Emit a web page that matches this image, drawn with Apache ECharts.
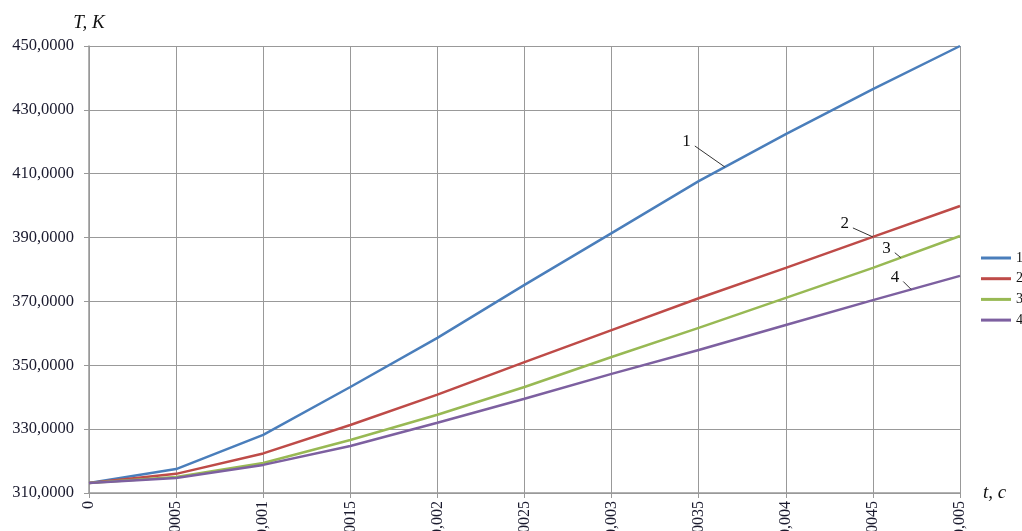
<!DOCTYPE html>
<html><head><meta charset="utf-8">
<script src="https://cdn.jsdelivr.net/npm/echarts@6/dist/echarts.min.js"></script>
<style>html,body{margin:0;padding:0;background:#fff;overflow:hidden}#c{width:1022px;height:531px}</style>
</head><body><div id="c"></div>
<script>
const times = [0, 0.0005, 0.001, 0.0015, 0.002, 0.0025, 0.003, 0.0035, 0.004, 0.0045, 0.005];
const s1 = [313.1, 317.5, 328.2, 343.2, 358.6, 375.2, 391.4, 407.7, 422.4, 436.5, 450.0];
const s2 = [313.1, 316.0, 322.4, 331.3, 340.8, 351.0, 361.0, 371.0, 380.5, 390.2, 399.9];
const s3 = [313.1, 315.0, 319.4, 326.6, 334.5, 343.2, 352.6, 361.7, 371.1, 380.5, 390.5];
const s4 = [313.1, 314.7, 318.8, 324.7, 332.0, 339.5, 347.3, 354.8, 362.6, 370.4, 378.0];
const seriesNames = ['1', '2', '3', '4'];
const colors = ['#4a7ebb', '#be4b48', '#98b954', '#7d60a0'];
// annotation anchors: series index, time on curve, label offset (px)
const notes = [
  {s: 0, t: 0.00365, dx: -36, dy: -26},
  {s: 1, t: 0.0045, dx: -26, dy: -14},
  {s: 2, t: 0.00466, dx: -12, dy: -10},
  {s: 3, t: 0.00472, dx: -14, dy: -13}
];
const allSeries = [s1, s2, s3, s4];
const font = 'Liberation Serif';
const chart = echarts.init(document.getElementById('c'));
const fmt = v => v.toString().replace('.', ',');
chart.setOption({
  animation: false,
  color: colors,
  grid: {left: 89, right: 62, top: 46, bottom: 38, containLabel: false, outerBoundsMode: 'none'},
  legend: {
    orient: 'vertical', left: 981, top: 251, padding: 0, itemWidth: 30, itemHeight: 3, itemGap: 6.7,
    icon: 'rect',
    textStyle: {fontFamily: font, fontSize: 14, color: '#111'},
    data: seriesNames
  },
  xAxis: {
    type: 'value', min: 0, max: 0.005, interval: 0.0005,
    name: 't, c', nameLocation: 'end', nameGap: 23,
    nameTextStyle: {fontFamily: font, fontStyle: 'italic', fontSize: 19, color: '#111', verticalAlign: 'middle'},
    axisLine: {lineStyle: {color: '#999', width: 1.5}},
    axisTick: {show: true, length: 5, lineStyle: {color: '#999'}},
    splitLine: {show: true, lineStyle: {color: '#999', width: 1}},
    axisLabel: {rotate: 90, fontFamily: font, fontSize: 16, color: '#1a1a2e', margin: 8,
      formatter: v => fmt(+v.toFixed(4))}
  },
  yAxis: {
    type: 'value', min: 310, max: 450, interval: 20,
    name: 'T, K', nameLocation: 'end', nameGap: 14,
    nameTextStyle: {fontFamily: font, fontStyle: 'italic', fontSize: 19, color: '#111', align: 'center'},
    axisLine: {show: true, lineStyle: {color: '#999', width: 1.5}},
    axisTick: {show: true, length: 5, lineStyle: {color: '#999'}},
    splitLine: {show: true, lineStyle: {color: '#999', width: 1}},
    axisLabel: {fontFamily: font, fontSize: 16.5, color: '#1a1a2e', margin: 15,
      formatter: v => v.toFixed(4).replace('.', ',')}
  },
  series: allSeries.map((arr, i) => ({
    name: seriesNames[i], type: 'line', showSymbol: false, symbol: 'none',
    lineStyle: {width: 2.5, color: colors[i]},
    data: times.map((t, k) => [t, arr[k]])
  }))
});
function interp(arr, t) {
  for (let k = 0; k < times.length - 1; k++) {
    if (t >= times[k] && t <= times[k + 1]) {
      const f = (t - times[k]) / (times[k + 1] - times[k]);
      return arr[k] + f * (arr[k + 1] - arr[k]);
    }
  }
  return arr[arr.length - 1];
}
const g = [];
notes.forEach(n => {
  const p = chart.convertToPixel({gridIndex: 0}, [n.t, interp(allSeries[n.s], n.t)]);
  const lx = p[0] + n.dx, ly = p[1] + n.dy;
  g.push({type: 'line', shape: {x1: lx + 6, y1: ly + 5, x2: p[0], y2: p[1]}, style: {stroke: '#333', lineWidth: 1}, z: 10});
  g.push({type: 'text', x: lx + 2, y: ly + 1, style: {text: seriesNames[n.s], font: '17px "Liberation Serif"', fill: '#111', textAlign: 'right', textVerticalAlign: 'middle'}, z: 10});
});
chart.setOption({graphic: g});
</script>
</body></html>
